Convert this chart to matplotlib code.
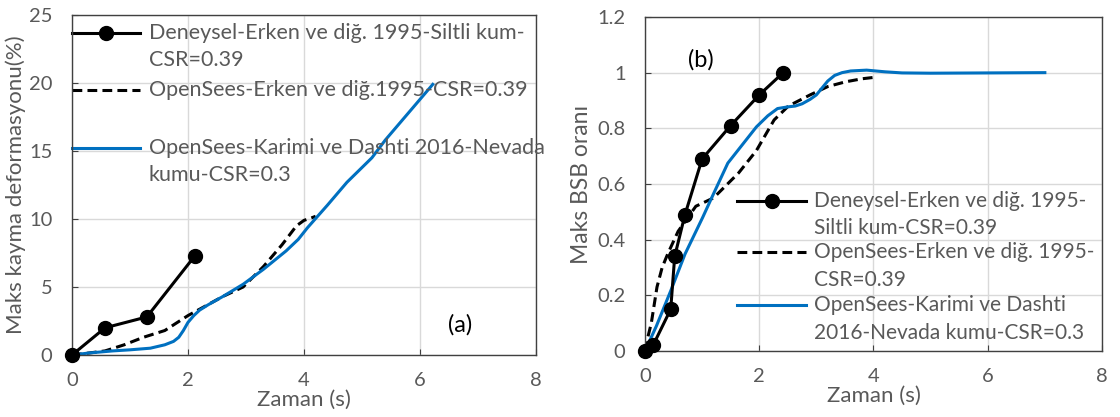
import matplotlib
matplotlib.use("Agg")
import matplotlib.pyplot as plt

plt.rcParams["font.family"] = ["Lato", "DejaVu Sans"]

# (a) max shear strain (%) vs time (s)
exp_a_t = [0, 0.57, 1.29, 2.12]
exp_a_v = [0, 2.0, 2.8, 7.3]
erk_a_t = [0, 0.3, 0.57, 0.9, 1.23, 1.6, 2.0, 2.3, 2.6, 2.95, 3.3, 3.62, 3.87, 4.0, 4.14, 4.2]
erk_a_v = [0, 0.15, 0.3, 0.75, 1.3, 1.8, 2.9, 3.6, 4.3, 5.0, 6.5, 8.1, 9.5, 9.9, 10.1, 10.2]
kar_a_t = [0, 0.3, 0.7, 1.0, 1.35, 1.6, 1.75, 1.84, 1.92, 2.0, 2.1, 2.2, 2.35, 2.6, 2.95, 3.3,
           3.69, 3.9, 4.06, 4.4, 4.74, 5.17, 5.4, 5.8, 6.22]
kar_a_v = [0, 0.15, 0.3, 0.38, 0.5, 0.75, 1.0, 1.3, 1.8, 2.4, 2.9, 3.3, 3.7, 4.3, 5.2, 6.3,
           7.65, 8.5, 9.36, 11.0, 12.7, 14.5, 15.8, 17.8, 19.9]

# (b) max pore pressure ratio vs time (s)
exp_b_t = [0, 0.14, 0.45, 0.52, 0.70, 1.0, 1.5, 2.0, 2.42]
exp_b_v = [0, 0.02, 0.15, 0.34, 0.49, 0.69, 0.81, 0.92, 1.0]
erk_b_t = [0, 0.05, 0.11, 0.21, 0.3, 0.40, 0.58, 0.89, 1.2, 1.64, 1.95, 2.26, 2.51, 2.89,
           3.2, 3.51, 3.8, 4.01]
erk_b_v = [0, 0.05, 0.10, 0.23, 0.30, 0.35, 0.43, 0.52, 0.55, 0.64, 0.72, 0.83, 0.88, 0.92,
           0.95, 0.967, 0.978, 0.983]
kar_b_t = [0, 0.2, 0.45, 0.70, 1.01, 1.2, 1.45, 1.7, 1.95, 2.15, 2.32, 2.5, 2.63, 2.75, 2.89,
           3.0, 3.1, 3.2, 3.32, 3.45, 3.6, 3.88, 4.2, 4.5, 5.0, 6.0, 7.0]
kar_b_v = [0, 0.09, 0.216, 0.348, 0.48, 0.565, 0.675, 0.74, 0.805, 0.845, 0.871, 0.877, 0.88,
           0.888, 0.904, 0.92, 0.945, 0.97, 0.99, 1.0, 1.006, 1.009, 1.003, 0.999, 0.998,
           0.999, 1.0]

legend_a = [["Deneysel-Erken ve diğ. 1995-Siltli kum-", "CSR=0.39"],
            ["OpenSees-Erken ve diğ.1995-CSR=0.39"],
            ["OpenSees-Karimi ve Dashti 2016-Nevada", "kumu-CSR=0.3"]]
legend_b = [["Deneysel-Erken ve diğ. 1995-", "Siltli kum-CSR=0.39"],
            ["OpenSees-Erken ve diğ. 1995-", "CSR=0.39"],
            ["OpenSees-Karimi ve Dashti", "2016-Nevada kumu-CSR=0.3"]]

GRAY, BLUE = "#595959", "#0070C0"
EXP = dict(color="black", lw=2.2, marker="o", ms=10)
ERK = dict(color="black", lw=2.2, ls=(0, (3.2, 1.7)))
KAR = dict(color=BLUE, lw=2.2)


def style(ax, xmax, ymax, ystep, yfmt):
    ax.set_xlim(0, xmax)
    ax.set_ylim(0, ymax)
    ax.set_xticks(range(0, xmax + 1, 2))
    n = int(round(ymax / ystep))
    yt = [i * ystep for i in range(n + 1)]
    ax.set_yticks(yt)
    ax.set_yticklabels([yfmt(v) for v in yt])
    ax.grid(True, color="#D9D9D9", lw=1.0)
    ax.set_axisbelow(True)
    for s in ax.spines.values():
        s.set_color("#404040")
        s.set_linewidth(1.0)
    ax.tick_params(direction="in", length=4, color="#404040", labelcolor=GRAY,
                   labelsize=14.5)
    ax.tick_params(axis="x", pad=12)
    ax.tick_params(axis="y", pad=14)
    ax.set_xlabel("Zaman (s)", color=GRAY, fontsize=16, labelpad=1)


def legend(ax, x0, x1, xt, ys, lines_list, dy, fs):
    for y, st, lines in zip(ys, [EXP, ERK, KAR], lines_list):
        kw = dict(st)
        if "marker" in kw:
            kw["markevery"] = [1]
        ax.plot([x0, (x0 + x1) / 2, x1], [y, y, y], transform=ax.transAxes,
                clip_on=False, **kw)
        for i, s in enumerate(lines):
            ax.annotate(s, (xt, y), xycoords="axes fraction", xytext=(0, -i * dy),
                        textcoords="offset points", va="center", ha="left",
                        color=GRAY, fontsize=fs)


fig = plt.figure(figsize=(11.2, 4.17), dpi=100)
ax1 = fig.add_axes([0.0643, 0.1487, 0.4143, 0.8153])
ax2 = fig.add_axes([0.5759, 0.1583, 0.4080, 0.8010])

ax1.plot(erk_a_t, erk_a_v, **ERK)
ax1.plot(kar_a_t, kar_a_v, **KAR)
ax1.plot(exp_a_t, exp_a_v, clip_on=False, zorder=3, **EXP)
style(ax1, 8, 25, 5, lambda v: f"{v:g}")
ax1.set_ylabel("Maks kayma deformasyonu(%)", color=GRAY, fontsize=16, labelpad=2)
ax1.text(6.69, 2.2, "(a)", fontsize=17, color="black", ha="center", va="center")
legend(ax1, 0.0, 0.147, 0.165, [0.946, 0.779, 0.609], legend_a, 19.5, 15.5)

ax2.plot(erk_b_t, erk_b_v, **ERK)
ax2.plot(kar_b_t, kar_b_v, **KAR)
ax2.plot(exp_b_t, exp_b_v, clip_on=False, zorder=3, **EXP)
style(ax2, 8, 1.2, 0.2, lambda v: f"{v:g}")
ax2.set_ylabel("Maks BSB oranı", color=GRAY, fontsize=16.5, labelpad=4)
ax2.text(0.98, 1.045, "(b)", fontsize=17, color="black", ha="center", va="center")
legend(ax2, 0.201, 0.353, 0.37, [0.450, 0.295, 0.138], legend_b, 20, 15)

fig.savefig("out.png", dpi=100)
